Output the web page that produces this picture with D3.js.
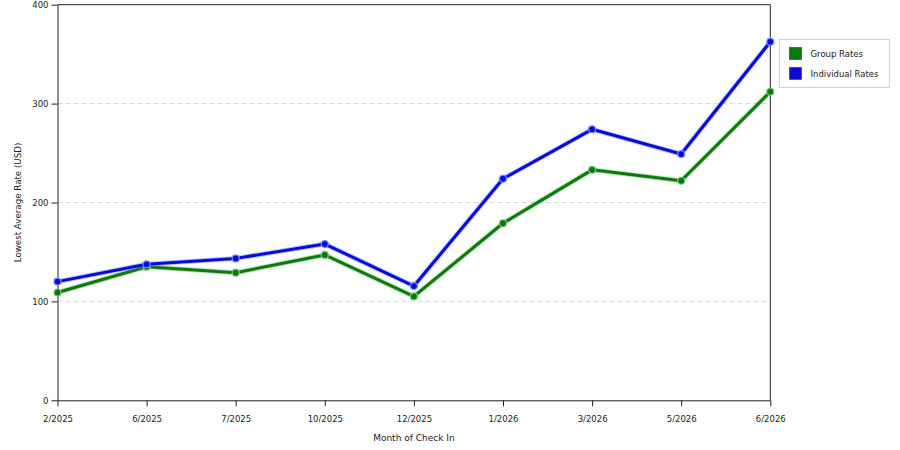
<!DOCTYPE html>
<html>
<head>
<meta charset="utf-8">
<script src="https://cdn.jsdelivr.net/npm/d3@7/dist/d3.min.js"></script>
<style>
  body { margin: 0; background: #fff; }
  svg { display: block; font-family: "DejaVu Sans", Verdana, sans-serif; }
</style>
</head>
<body>
<svg id="chart" width="900" height="450"></svg>
<script>
// chart data
var months = ["2/2025", "6/2025", "7/2025", "10/2025", "12/2025", "1/2026", "3/2026", "5/2026", "6/2026"];
var groupRates = [109, 135, 129, 147, 105, 179, 233, 222, 312];
var individualRates = [120, 137.5, 143.5, 158, 115.5, 224, 274, 249, 362.5];
var yTicks = [0, 100, 200, 300, 400];

var series = [
  { name: "Group Rates", values: groupRates, color: "#0a7a0a", halo: "#7fc07f" },
  { name: "Individual Rates", values: individualRates, color: "#0a0ad8", halo: "#6f8fff" }
];

var svg = d3.select("#chart");
var plotLeft = 57.5, plotRight = 770.3, plotTop = 4.7, plotBottom = 400.3;

var x = d3.scalePoint().domain(months).range([plotLeft, plotRight]);
var y = d3.scaleLinear().domain([0, 400]).range([plotBottom, plotTop]);

// dashed gridlines
svg.append("g")
  .selectAll("line")
  .data(yTicks.filter(function (d) { return d > 0 && d < 400; }))
  .enter().append("line")
  .attr("x1", plotLeft).attr("x2", plotRight)
  .attr("y1", function (d) { return y(d); })
  .attr("y2", function (d) { return y(d); })
  .attr("stroke", "#d8d8d8")
  .attr("stroke-dasharray", "5,3");

// frame
svg.append("line").attr("x1", plotLeft).attr("x2", plotRight).attr("y1", plotTop).attr("y2", plotTop).attr("stroke", "#222");
svg.append("line").attr("x1", plotRight).attr("x2", plotRight).attr("y1", plotTop).attr("y2", plotBottom).attr("stroke", "#222");

var xAxis = svg.append("g")
  .attr("transform", "translate(0," + plotBottom + ")")
  .call(d3.axisBottom(x).tickSizeInner(6).tickSizeOuter(0).tickPadding(10));
var yAxis = svg.append("g")
  .attr("transform", "translate(" + plotLeft + ",0)")
  .call(d3.axisLeft(y).tickValues(yTicks).tickSizeInner(6).tickSizeOuter(0).tickPadding(3));
[xAxis, yAxis].forEach(function (a) {
  a.select(".domain").attr("stroke", "#222");
  a.selectAll(".tick line").attr("stroke", "#222");
  a.selectAll(".tick text").attr("font-family", "DejaVu Sans, sans-serif").attr("font-size", 8.5).attr("fill", "#222");
});

// axis titles
svg.append("text")
  .attr("x", (plotLeft + plotRight) / 2).attr("y", 440.5)
  .attr("text-anchor", "middle").attr("font-size", 9).attr("fill", "#222")
  .text("Month of Check In");
svg.append("text")
  .attr("transform", "translate(21," + ((plotTop + plotBottom) / 2) + ") rotate(-90)")
  .attr("text-anchor", "middle").attr("font-size", 8.7).attr("fill", "#222")
  .text("Lowest Average Rate (USD)");

var line = d3.line()
  .x(function (d, i) { return x(months[i]); })
  .y(function (d) { return y(d); });

series.forEach(function (s) {
  var g = svg.append("g");
  g.append("path").datum(s.values)
    .attr("d", line).attr("fill", "none")
    .attr("stroke", s.halo).attr("stroke-width", 5).attr("stroke-opacity", 0.5)
    .attr("stroke-linejoin", "round");
  g.append("path").datum(s.values)
    .attr("d", line).attr("fill", "none")
    .attr("stroke", s.color).attr("stroke-width", 3)
    .attr("stroke-linejoin", "round");
  g.selectAll("circle").data(s.values).enter().append("circle")
    .attr("cx", function (d, i) { return x(months[i]); })
    .attr("cy", function (d) { return y(d); })
    .attr("r", 3.5)
    .attr("fill", s.color)
    .attr("stroke", s.halo).attr("stroke-width", 1.2);
});

// legend
var legend = svg.append("g").attr("transform", "translate(779.5,39.5)");
legend.append("rect").attr("width", 110).attr("height", 48)
  .attr("fill", "#fff").attr("stroke", "#d0d0d0");
series.forEach(function (s, i) {
  legend.append("rect")
    .attr("x", 10).attr("y", 8 + i * 20).attr("width", 12).attr("height", 12)
    .attr("fill", s.color).attr("stroke", "#333").attr("stroke-width", 0.6);
  legend.append("text")
    .attr("x", 31).attr("y", 17.5 + i * 20)
    .attr("font-size", 8.5).attr("fill", "#222")
    .text(s.name);
});
</script>
</body>
</html>
